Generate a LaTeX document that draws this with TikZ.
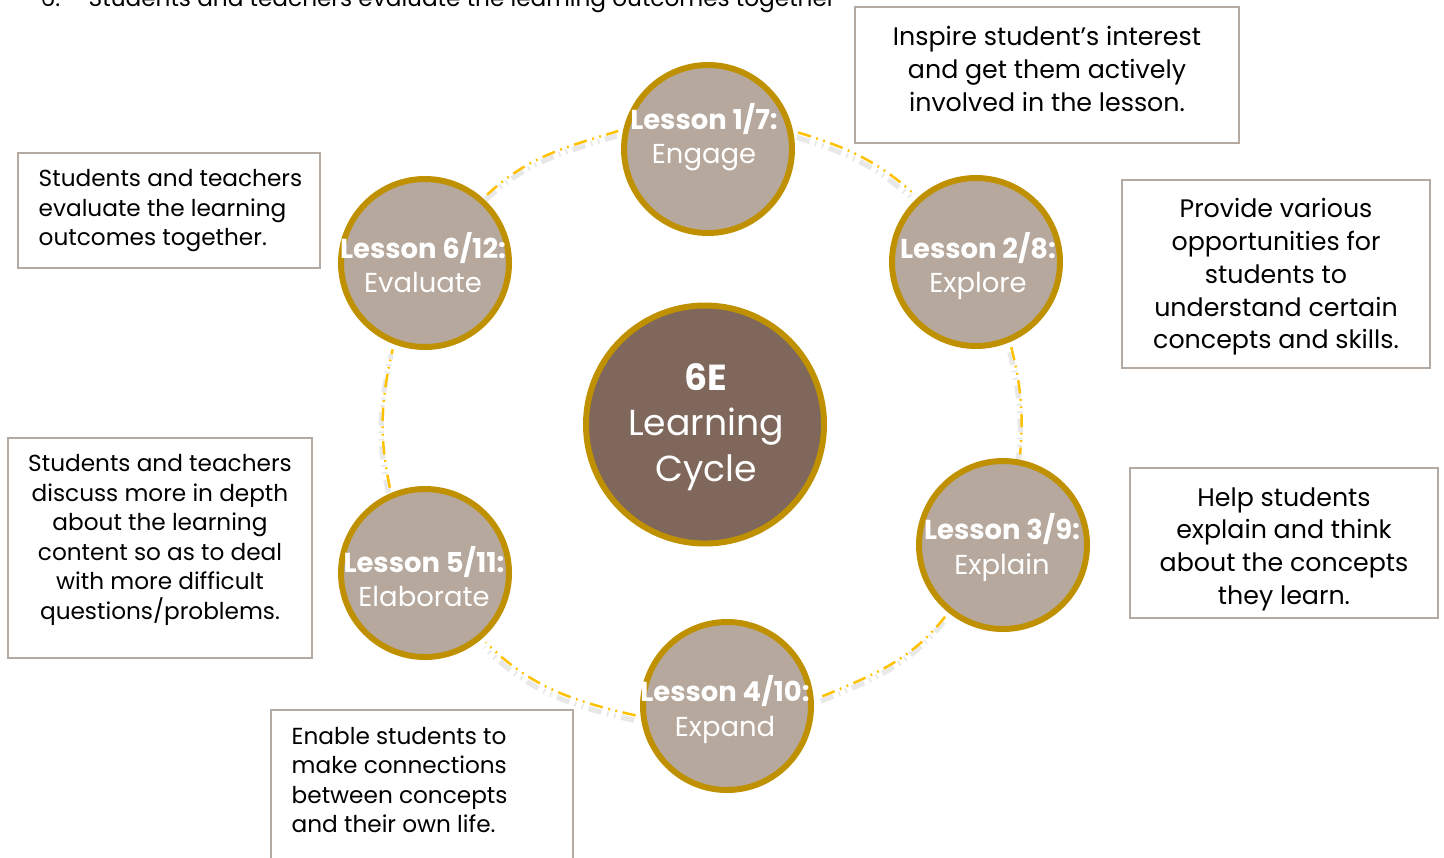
\documentclass[tikz,border=0pt]{standalone}
\usepackage{fontspec}
\setmainfont{Poppins}
\definecolor{lessonfill}{RGB}{182,168,156}
\definecolor{hubfill}{RGB}{127,104,91}
\definecolor{ringgold}{RGB}{191,144,0}
\definecolor{cyclegold}{RGB}{255,192,0}
\definecolor{boxline}{RGB}{180,170,161}
\begin{document}
\begin{tikzpicture}[
lesson/.style={circle,fill=lessonfill,draw=ringgold,line width=1.7pt,minimum size=1.68cm,inner sep=0pt},
lessontext/.style={text=white,align=center,inner sep=0pt,font=\fontsize{7.8}{9.7}\selectfont},
hub/.style={circle,fill=hubfill,draw=ringgold,line width=1.7pt,minimum size=2.38cm,inner sep=0pt},
note/.style={draw=boxline,line width=.6pt,fill=white,inner sep=0pt},
notetext/.style={align=center,inner sep=0pt,font=\fontsize{7.2}{9.3}\selectfont},
sidetext/.style={align=left,inner sep=0pt,font=\fontsize{6.6}{8.4}\selectfont},
cycledash/.style={dash pattern=on 3.8pt off 1.6pt on .5pt off 1.6pt on .5pt off 1.6pt},
cycleline/.style={preaction={draw=black,opacity=.09,line width=1.5pt,cycledash,transform canvas={xshift=-.4pt,yshift=-1.4pt}},cyclegold,line width=.7pt,cycledash,shorten <=1.5pt,shorten >=1.5pt}
]
\path[use as bounding box] (0,0) rectangle (14.44,-8.57);
\node[anchor=base west,inner sep=0pt,font=\fontsize{6.6}{8}\selectfont] (item) at (.40,-.06) {6.};
\node[anchor=base west,inner sep=0pt,font=\fontsize{6.6}{8}\selectfont] (itemtext) at (.88,-.06) {Students and teachers evaluate the learning outcomes together};
\node[note,minimum width=3.84cm,minimum height=1.36cm] (inspire) at (10.47,-.75) {};
\node[notetext] (inspire-text) at (10.47,-.69) {Inspire student’s interest\\and get them actively\\involved in the lesson.};
\node[note,minimum width=3.08cm,minimum height=1.88cm] (provide) at (12.76,-2.74) {};
\node[notetext] (provide-text) at (12.76,-2.77) {Provide various\\opportunities for\\students to\\understand certain\\concepts and skills.};
\node[note,minimum width=3.08cm,minimum height=1.50cm] (help) at (12.84,-5.43) {};
\node[notetext] (help-text) at (12.84,-5.49) {Help students\\explain and think\\about the concepts\\they learn.};
\node[note,minimum width=3.02cm,minimum height=1.60cm] (enable) at (4.22,-7.90) {};
\node[sidetext,anchor=west] (enable-text) at (2.91,-7.80) {Enable students to\\make connections\\between concepts\\and their own life.};
\node[note,minimum width=3.04cm,minimum height=2.20cm] (discuss) at (1.60,-5.48) {};
\node[sidetext,align=center] (discuss-text) at (1.60,-5.40) {Students and teachers\\discuss more in depth\\about the learning\\content so as to deal\\with more difficult\\questions/problems.};
\node[note,minimum width=3.02cm,minimum height=1.15cm] (outcomes) at (1.69,-2.105) {};
\node[sidetext,anchor=west] (outcomes-text) at (.38,-2.11) {Students and teachers\\evaluate the learning\\outcomes together.};
\node[lesson] (engage) at (7.08,-1.49) {};
\node[lesson] (explore) at (9.76,-2.62) {};
\node[lesson] (explain) at (10.03,-5.45) {};
\node[lesson] (expand) at (7.27,-7.06) {};
\node[lesson] (elaborate) at (4.25,-5.73) {};
\node[lesson] (evaluate) at (4.25,-2.63) {};
\node[hub] (hub) at (7.05,-4.245) {};
\draw[cycleline] (engage.12) to[out=-17,in=138] (explore.132);
\draw[cycleline] (explore.-67) to[out=-76,in=85] (explain.79);
\draw[cycleline] (explain.-129) to[out=-128,in=23] (expand.4);
\draw[cycleline] (expand.187) to[out=167,in=-45] (elaborate.-49);
\draw[cycleline] (elaborate.113) to[out=102,in=-103] (evaluate.-111);
\draw[cycleline] (evaluate.48) to[out=43,in=-163] (engage.167);
\node[lessontext] (engage-text) at (7.04,-1.37) {\textbf{Lesson 1/7:}\\Engage};
\node[lessontext] (explore-text) at (9.78,-2.66) {\textbf{Lesson 2/8:}\\Explore};
\node[lessontext] (explain-text) at (10.02,-5.475) {\textbf{Lesson 3/9:}\\Explain};
\node[lessontext] (expand-text) at (7.25,-7.095) {\textbf{Lesson 4/10:}\\Expand};
\node[lessontext] (elaborate-text) at (4.24,-5.77) {\textbf{Lesson 5/11:}\\Elaborate};
\node[lessontext] (evaluate-text) at (4.23,-2.63) {\textbf{Lesson 6/12:}\\Evaluate};
\node[text=white,align=center,inner sep=0pt,font=\fontsize{10.3}{13}\selectfont] (hub-text) at (7.06,-4.27) {\textbf{6E}\\Learning\\Cycle};
\end{tikzpicture}
\end{document}
